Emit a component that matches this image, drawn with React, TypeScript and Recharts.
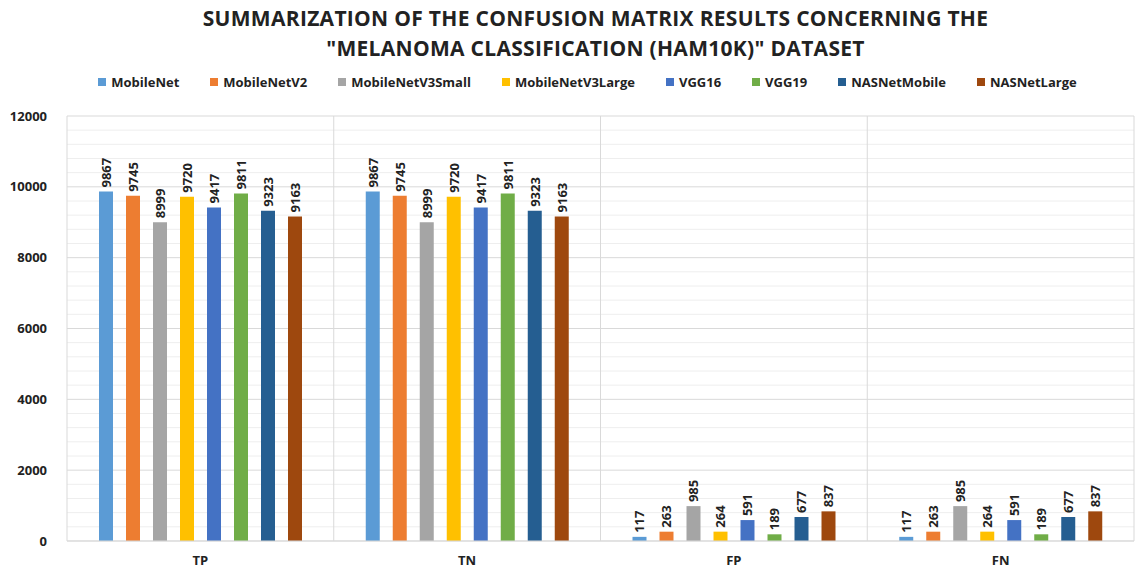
import React from "react"
import {
  BarChart,
  Bar,
  XAxis,
  YAxis,
  CartesianGrid,
  LabelList,
} from "recharts"

// confusion matrix values per model
const categories = ["TP", "TN", "FP", "FN"]
const models = [
  "MobileNet",
  "MobileNetV2",
  "MobileNetV3Small",
  "MobileNetV3Large",
  "VGG16",
  "VGG19",
  "NASNetMobile",
  "NASNetLarge",
]
const colors = ["#5B9BD5", "#ED7D31", "#A5A5A5", "#FFC000", "#4472C4", "#70AD47", "#255E91", "#9E480E"]

const mobileNet = [9867, 9867, 117, 117]
const mobileNetV2 = [9745, 9745, 263, 263]
const mobileNetV3Small = [8999, 8999, 985, 985]
const mobileNetV3Large = [9720, 9720, 264, 264]
const vgg16 = [9417, 9417, 591, 591]
const vgg19 = [9811, 9811, 189, 189]
const nasNetMobile = [9323, 9323, 677, 677]
const nasNetLarge = [9163, 9163, 837, 837]

const seriesValues = [mobileNet, mobileNetV2, mobileNetV3Small, mobileNetV3Large, vgg16, vgg19, nasNetMobile, nasNetLarge]

const yTicks = [0, 2000, 4000, 6000, 8000, 10000, 12000]
const minorTicks = [400, 800, 1200, 1600, 2400, 2800, 3200, 3600, 4400, 4800, 5200, 5600, 6400, 6800, 7200, 7600, 8400, 8800, 9200, 9600, 10400, 10800, 11200, 11600]
const Y_MAX = 12000

const data = categories.map((c, i) => {
  const row: any = { name: c }
  models.forEach((m, j) => { row[m] = seriesValues[j][i] })
  return row
})

const FONT = "'Open Sans', Arial, sans-serif"

const ValueLabel = (props: any) => {
  const { x, y, width, value } = props
  const cx = x + width / 2
  const ty = y - 4
  return (
    <text
      x={cx}
      y={ty}
      transform={`rotate(-90, ${cx}, ${ty})`}
      textAnchor="start"
      dominantBaseline="central"
      fontSize={13}
      fontWeight="bold"
      fill="#222"
      fontFamily={FONT}
    >
      {value}
    </text>
  )
}

// light minor lines every 400, placed with the plot offset (linear axis 0..Y_MAX)
const minorLines = ({ offset }: any) =>
  minorTicks.map((t) => offset.top + offset.height * (1 - t / Y_MAX))

export default function App() {
  return (
    <div style={{ position: "absolute", left: 0, top: 0, width: 1135, height: 571, background: "#fff", fontFamily: FONT }}>
      <div style={{ position: "absolute", top: 3, left: 28, width: 1135, textAlign: "center", fontSize: 21, letterSpacing: 0.3, fontWeight: "bold", lineHeight: "30px", color: "#222" }}>
        SUMMARIZATION OF THE CONFUSION MATRIX RESULTS CONCERNING THE
        <br />
        "MELANOMA CLASSIFICATION (HAM10K)" DATASET
      </div>
      <div style={{ position: "absolute", top: 73, left: 40, width: 1095, display: "flex", justifyContent: "center", gap: 31, fontSize: 13, fontWeight: "bold", color: "#222" }}>
        {models.map((m, i) => (
          <div key={m} style={{ display: "flex", alignItems: "center", gap: 5 }}>
            <span style={{ width: 8, height: 8, background: colors[i], display: "inline-block" }} />
            <span>{m}</span>
          </div>
        ))}
      </div>
      <div style={{ position: "absolute", left: 0, top: 0 }}>
        <BarChart
          width={1135}
          height={571}
          data={data}
          margin={{ top: 116, right: 1, bottom: 0, left: 0 }}
          barSize={14}
          barGap={13}
        >
          <CartesianGrid
            stroke="#eeeeee"
            vertical={false}
            horizontalCoordinatesGenerator={minorLines}
          />
          <CartesianGrid
            stroke="#d9d9d9"
            vertical={true}
            verticalCoordinatesGenerator={({ offset }: any) =>
              [0, 1, 2, 3, 4].map((i) => offset.left + (i * offset.width) / 4)
            }
          />
          <XAxis
            dataKey="name"
            height={30}
            axisLine={{ stroke: "#d9d9d9" }}
            tickLine={false}
            tickMargin={9}
            tick={{ fontSize: 13, fontWeight: "bold", fill: "#222", fontFamily: FONT }}
          />
          <YAxis
            width={67}
            domain={[0, Y_MAX]}
            ticks={yTicks}
            interval={0}
            axisLine={false}
            tickLine={false}
            tickMargin={14}
            tick={{ fontSize: 13, fontWeight: "bold", fill: "#222", fontFamily: FONT }}
          />
          {models.map((m, i) => (
            <Bar key={m} dataKey={m} fill={colors[i]} isAnimationActive={false}>
              <LabelList dataKey={m} content={<ValueLabel />} />
            </Bar>
          ))}
        </BarChart>
      </div>
    </div>
  )
}
